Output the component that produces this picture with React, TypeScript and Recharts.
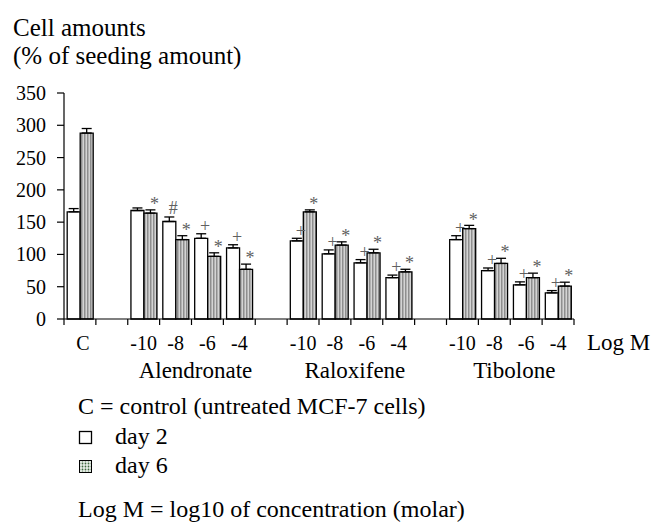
import { BarChart, Bar, XAxis, YAxis, ErrorBar, LabelList } from 'recharts';

/**
 * Cell amounts (% of seeding amount) after day 2 / day 6,
 * control vs. Alendronate, Raloxifene, Tibolone at -10..-4 log M.
 */

const W = 661;
const H = 525;
const FONT = '"Liberation Serif", "Times New Roman", serif';

const CATEGORIES = ['C', '', '-10', '-8', '-6', '-4', '', '-10', '-8', '-6', '-4', '', '-10', '-8', '-6', '-4'];
const GROUPS = ['', '', 'Alendronate', 'Alendronate', 'Alendronate', 'Alendronate', '', 'Raloxifene', 'Raloxifene', 'Raloxifene', 'Raloxifene', '', 'Tibolone', 'Tibolone', 'Tibolone', 'Tibolone'];

const DAY2 = [166, null, 168, 151, 125, 110, null, 121, 101, 87, 64, null, 123, 75, 53, 40.5];
const DAY2_ERR = [5, null, 4, 7, 7, 5, null, 4, 6, 5, 4, null, 6, 4, 4.5, 3.5];
const DAY6 = [288, null, 164, 123, 97, 77, null, 166, 114.5, 102.5, 73, null, 140, 86, 64, 51];
const DAY6_ERR = [7, null, 5, 6, 5.5, 8, null, 3, 5, 5.5, 4, null, 5, 8, 7, 6];

const MARK2 = ['', '', '', '#', '+', '+', '', '+', '+', '+', '+', '', '+', '+', '+', '+'];
const MARK6 = ['', '', '*', '*', '*', '*', '', '*', '*', '*', '*', '', '*', '*', '*', '*'];

const Y_TICKS = [0, 50, 100, 150, 200, 250, 300, 350];

const DATA = CATEGORIES.map((cat, i) => ({
  cat,
  key: String(i),
  day2: DAY2[i],
  day6: DAY6[i],
  err2: DAY2_ERR[i] == null ? null : [0, DAY2_ERR[i]],
  err6: DAY6_ERR[i] == null ? null : [0, DAY6_ERR[i]],
}));

const M = { top: 93, right: 87, bottom: 146, left: 0 };
const Y_W = 64;
const X_H = 60;
const SLOT = (W - M.left - Y_W - M.right) / CATEGORIES.length;
const txt = { fontFamily: FONT };

function XTick({ x, y, payload, index }: any) {
  const i = index ?? payload?.index ?? 0;
  const half = SLOT / 2;
  const group = GROUPS[i];
  const last = i === CATEGORIES.length - 1;
  return (
    <g fill="#000">
      <line x1={x - half} x2={x - half} y1={y} y2={y + 6} stroke="#000" strokeWidth={1.2} />
      {last && <line x1={x + half} x2={x + half} y1={y} y2={y + 6} stroke="#000" strokeWidth={1.2} />}
      <text x={x + (payload.value === 'C' ? 3 : 0)} y={y + 31} textAnchor="middle" fontSize={20} style={txt}>{payload.value}</text>
      {group && group !== GROUPS[i - 1] && (
        <text x={x + 1.5 * SLOT + 4} y={y + 59} textAnchor="middle" fontSize={23} style={txt}>{group}</text>
      )}
      {last && (
        <text x={x + half + 13} y={y + 31} fontSize={23} style={txt}>Log M</text>
      )}
    </g>
  );
}

function YTick({ x, y, payload }: any) {
  return (
    <text x={x} y={y} dy="0.35em" textAnchor="end" fontSize={20} fill="#000" style={txt}>
      {payload.value}
    </text>
  );
}

// significance marks (+, #, *) drawn just above each error bar
function markLabel(marks: string[], errs: (number | null)[], values: (number | null)[]) {
  return (props: any) => {
    const i = Number(props.value);
    const m = marks[i];
    const v = values[i];
    if (!m || v == null) return null;
    const vb = props.viewBox || props;
    const { x, y, width, height } = vb;
    const pxPerUnit = height / v;
    const errTop = y - (errs[i] || 0) * pxPerUnit;
    const fs = 18;
    const cy = errTop - (m === '+' ? 7 : 8.5);
    const base = m === '*' ? cy + 0.48 * fs : cy + 0.3 * fs;
    return (
      <text x={x + width / 2 + 4} y={base} textAnchor="middle" fontSize={fs} fill="#606060" style={txt}>
        {m}
      </text>
    );
  };
}

export default function App() {
  return (
    <div style={{ position: 'relative', width: W, height: H, marginLeft: -8, marginTop: -8, background: '#fff', fontFamily: FONT }}>
      <BarChart width={W} height={H} data={DATA} margin={M} barCategoryGap="10%" barGap={0}>
        <XAxis
          dataKey="cat"
          height={X_H}
          interval={0}
          tickLine={false}
          tickSize={0}
          tickMargin={0}
          axisLine={{ stroke: '#000', strokeWidth: 1.2 }}
          tick={<XTick />}
        />
        <YAxis
          domain={[0, 350]}
          ticks={Y_TICKS}
          interval={0}
          width={Y_W}
          tickSize={7}
          tickMargin={11}
          axisLine={{ stroke: '#000', strokeWidth: 1.2 }}
          tickLine={{ stroke: '#000', strokeWidth: 1.2 }}
          tick={<YTick />}
        />
        <Bar dataKey="day2" fill="#fff" stroke="#000" strokeWidth={1.3} isAnimationActive={false}>
          <ErrorBar dataKey="err2" direction="y" width={5} stroke="#000" strokeWidth={1.3} />
          <LabelList dataKey="key" content={markLabel(MARK2, DAY2_ERR, DAY2)} />
        </Bar>
        <Bar dataKey="day6" fill="url(#stripes)" stroke="#000" strokeWidth={1.3} isAnimationActive={false}>
          <ErrorBar dataKey="err6" direction="y" width={5} stroke="#000" strokeWidth={1.3} />
          <LabelList dataKey="key" content={markLabel(MARK6, DAY6_ERR, DAY6)} />
        </Bar>
      </BarChart>

      {/* Title + notes */}
      <svg width={W} height={H} style={{ position: 'absolute', left: 0, top: 0, pointerEvents: 'none' }}>
        <defs>
          <pattern id="stripes" width="3" height="3" patternUnits="userSpaceOnUse">
            <rect width="3" height="3" fill="#d4d4d4" />
            <rect width="1.5" height="3" fill="#8e8e8e" />
          </pattern>
          <pattern id="dots" width="3" height="3" patternUnits="userSpaceOnUse">
            <rect width="3" height="3" fill="#e8efe8" />
            <circle cx="1.5" cy="1.5" r="0.9" fill="#3f6a3f" />
          </pattern>
        </defs>
        <g fill="#000" fontSize={24} style={txt}>
          <text x={13} y={36} fontSize={25}>Cell amounts</text>
          <text x={13} y={64} fontSize={25}>(% of seeding amount)</text>

          <text x={78} y={414}>C = control (untreated MCF-7 cells)</text>
          <rect x={79.5} y={431.5} width={12} height={12} fill="#fff" stroke="#000" strokeWidth={1.3} />
          <text x={115} y={444}>day 2</text>
          <rect x={79.5} y={460.5} width={12} height={12} fill="url(#dots)" stroke="#000" strokeWidth={1} />
          <text x={115} y={473}>day 6</text>
          <text x={78} y={517}>Log M = log10 of concentration (molar)</text>
        </g>
      </svg>
    </div>
  );
}
